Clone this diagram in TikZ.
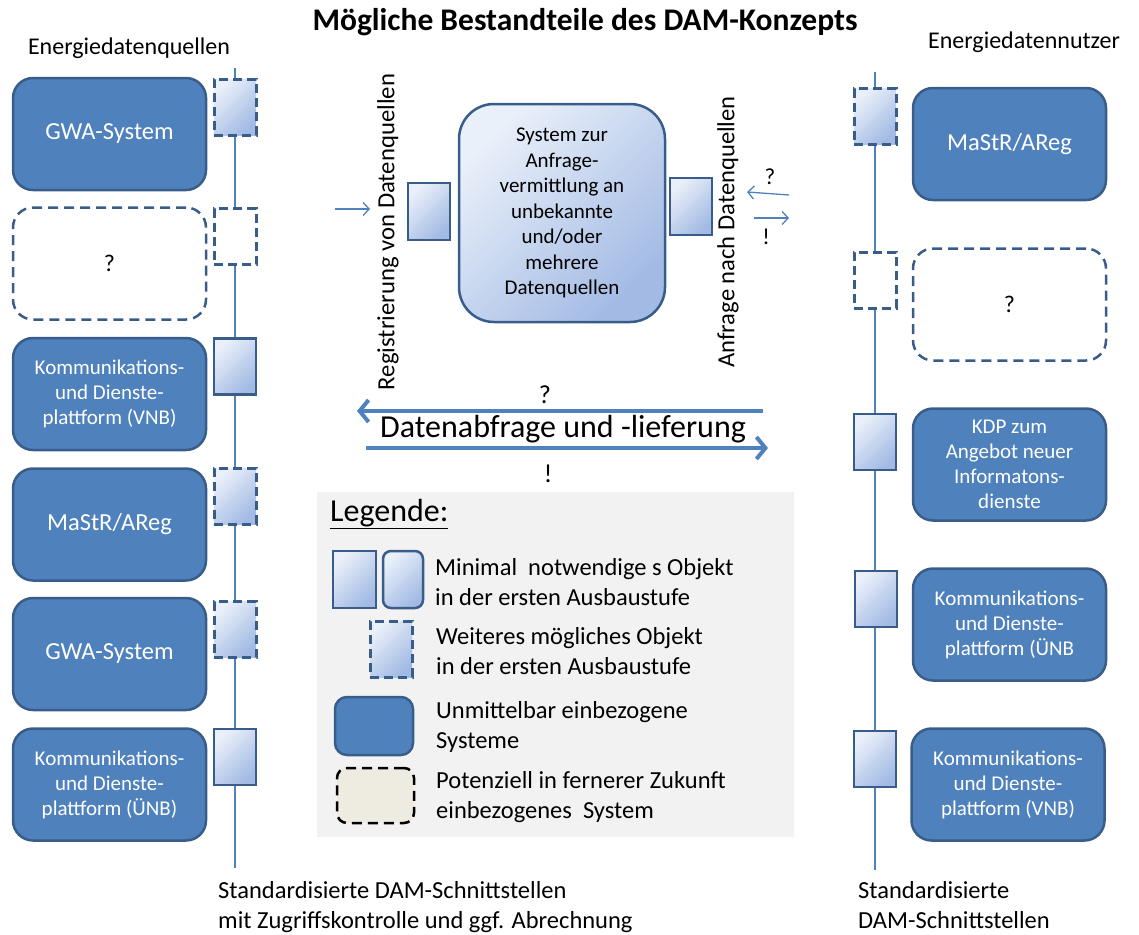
\documentclass[tikz,border=0pt]{standalone}
\usepackage{fontspec}
\setmainfont{Carlito}
\usetikzlibrary{arrows.meta}
\definecolor{midblue}{HTML}{4F81BD}
\definecolor{dkblue}{HTML}{385D8A}
\definecolor{lnblue}{HTML}{4F81BD}
\definecolor{sqlight}{HTML}{EAF0F9}
\definecolor{sqdark}{HTML}{A2BAE4}
\definecolor{legbg}{HTML}{F2F2F2}
\definecolor{futfill}{HTML}{EEECE1}
\newcommand{\fs}[2]{\fontsize{#1}{#2}\selectfont}
\tikzset{
  sysbox/.style={rectangle, rounded corners=20pt, draw=dkblue, line width=2.5pt, fill=midblue,
    text=white, align=center, minimum width=193pt, minimum height=112pt, inner sep=2pt},
  futbox/.style={sysbox, fill=white, text=black, dash pattern=on 10pt off 6pt},
  ifsq/.style={rectangle, draw=dkblue, line width=2.5pt, top color=sqlight, bottom color=sqdark,
    shading angle=45, minimum width=42pt, minimum height=56pt, inner sep=0pt},
  ifsqd/.style={ifsq, line width=3pt, dash pattern=on 9pt off 5pt},
  ifsqw/.style={rectangle, draw=dkblue, line width=3pt, fill=white, dash pattern=on 9pt off 5pt,
    minimum width=42pt, minimum height=56pt, inner sep=0pt},
  vline/.style={draw=lnblue, line width=1.5pt},
  thinarrow/.style={draw=lnblue, line width=1.3pt, -{Straight Barb[length=6pt,width=13pt]}},
  bigarrow/.style={draw=lnblue, line width=4pt, -{Straight Barb[length=9pt,width=22pt]}},
  lbl/.style={inner sep=0pt, font=\fs{24}{30}},
  legtxt/.style={anchor=west, align=left, inner sep=0pt, font=\fs{24.5}{30}}
}
\begin{document}
\begin{tikzpicture}[x=1pt,y=-1pt]
\useasboundingbox (0,0) rectangle (1139,934);
% title and headers
\node[font=\bfseries\fs{31.5}{34}] (title) at (585,22) {Mögliche Bestandteile des DAM-Konzepts};
\node[lbl] (hl) at (129,48) {Energiedatenquellen};
\node[lbl] (hr) at (1024,42) {Energiedatennutzer};

% left column
\node[sysbox, font=\fs{24.5}{28}] (lb1) at (109.5,134) {GWA-System};
\node[futbox, font=\fs{24}{28}] (lb2) at (109.5,263.5) {?};
\node[sysbox, font=\fs{21}{25}] (lb3) at (109.5,394) {Kommunikations-\\und Dienste-\\plattform (VNB)};
\node[sysbox, font=\fs{24.5}{28}] (lb4) at (109.5,524.5) {MaStR/AReg};
\node[sysbox, font=\fs{24.5}{28}] (lb5) at (109.5,654) {GWA-System};
\node[sysbox, font=\fs{21}{25}] (lb6) at (109.5,784.5) {Kommunikations-\\und Dienste-\\plattform (ÜNB)};

\coordinate (ltop) at (235,68);
\coordinate (lbot) at (235,868);
\node[ifsqd] (ls1) at (235,107) {};
\node[ifsqw] (ls2) at (235,236.5) {};
\node[ifsq]  (ls3) at (235,366.5) {};
\node[ifsqd] (ls4) at (235,496) {};
\node[ifsqd] (ls5) at (235,629.5) {};
\node[ifsq]  (ls6) at (235,757) {};
\draw[vline] (ltop) -- (ls1.north) (ls1.south) -- (ls2.north) (ls2.south) -- (ls3.north)
  (ls3.south) -- (ls4.north) (ls4.south) -- (ls5.north) (ls5.south) -- (ls6.north) (ls6.south) -- (lbot);

% right column
\node[sysbox, font=\fs{24.5}{28}] (rb1) at (1009.5,144) {MaStR/AReg};
\node[futbox, font=\fs{24}{28}] (rb2) at (1009.5,304.5) {?};
\node[sysbox, font=\fs{21}{25}] (rb3) at (1009.5,464.5) {KDP zum\\Angebot neuer\\Informatons-\\dienste};
\node[sysbox, font=\fs{21}{25}] (rb4) at (1009.5,624.5) {Kommunikations-\\und Dienste-\\plattform (ÜNB};
\node[sysbox, font=\fs{21}{25}] (rb5) at (1008,784.5) {Kommunikations-\\und Dienste-\\plattform (VNB)};

\coordinate (rtop) at (875,72);
\coordinate (rbot) at (875,870);
\node[ifsqd] (rs1) at (875,116.5) {};
\node[ifsqw] (rs2) at (875,280) {};
\node[ifsq]  (rs3) at (875,442) {};
\node[ifsq]  (rs4) at (876,599) {};
\node[ifsq]  (rs5) at (875,759) {};
\draw[vline] (rtop) -- (rs1.north) (rs1.south) -- (rs2.north) (rs2.south) -- (rs3.north)
  (rs3.south) -- (rs3.south |- rs4.north) (rs3.south |- rs4.south) -- (rs5.north) (rs5.south) -- (rbot);

% center system
\node[rectangle, rounded corners=35pt, draw=dkblue, line width=2.5pt, top color=sqlight, bottom color=sqdark,
  shading angle=45, minimum width=206pt, minimum height=218pt, align=center, font=\fs{21}{25.5}] (sys) at (562,213)
  {System zur\\Anfrage-\\vermittlung an\\unbekannte\\und/oder\\mehrere\\Datenquellen};
\node[ifsq, minimum height=57pt] (csl) at (429,211.5) {};
\node[ifsq, minimum height=57pt] (csr) at (691,206.5) {};
\node[rotate=90, font=\fs{24.7}{28}, inner sep=0pt] (reg) at (388,232) {Registrierung von Datenquellen};
\node[rotate=90, font=\fs{24.6}{28}, inner sep=0pt] (anf) at (728,232) {Anfrage nach Datenquellen};

\coordinate (a1s) at (335,209);
\coordinate (a1e) at (370,209);
\draw[thinarrow] (a1s) -- (a1e);
\coordinate (a2s) at (789,195);
\coordinate (a2e) at (747,192);
\draw[thinarrow] (a2s) -- (a2e);
\coordinate (a3s) at (754,218);
\coordinate (a3e) at (789,218);
\draw[thinarrow] (a3s) -- (a3e);
\node[inner sep=0pt, font=\fs{23}{28}] (q1) at (770,177) {?};
\node[inner sep=0pt, font=\fs{23}{28}] (x1) at (766,237) {!};

% data exchange arrows
\coordinate (b1s) at (763,411);
\coordinate (b1e) at (357,411);
\draw[bigarrow] (b1s) -- (b1e);
\coordinate (b2s) at (366,448);
\coordinate (b2e) at (768,448);
\draw[bigarrow] (b2s) -- (b2e);
\node[inner sep=0pt, font=\fs{32}{36}] (dat) at (563,429) {Datenabfrage und -lieferung};
\node[inner sep=0pt, font=\fs{26}{28}] (q2) at (545,395) {?};
\node[inner sep=0pt, font=\fs{26}{28}] (x2) at (548,474) {!};

% legend
\fill[legbg] (317,492) rectangle (794,837);
\node[anchor=west, inner sep=0pt, font=\fs{32}{34}] (leg) at (330,514) {\underline{Legende:}};
\node[ifsq, minimum width=43pt, minimum height=57pt] (lg1) at (354.5,579.5) {};
\node[ifsq, rounded corners=8pt, minimum width=40pt, minimum height=57pt] (lg2) at (403,579.5) {};
\node[legtxt] (lt1) at (435,582) {Minimal~ notwendige s Objekt\\in der ersten Ausbaustufe};
\node[ifsqd] (lg3) at (391,649) {};
\node[legtxt] (lt2) at (436,651.5) {Weiteres mögliches Objekt\\in der ersten Ausbaustufe};
\node[sysbox, rounded corners=12pt, minimum width=78pt, minimum height=58pt] (lg4) at (374,726) {};
\node[legtxt] (lt3) at (436,726.5) {Unmittelbar einbezogene\\Systeme};
\node[rectangle, rounded corners=10pt, draw=black, line width=2.5pt, fill=futfill, dash pattern=on 10pt off 6pt,
  minimum width=77pt, minimum height=55pt] (lg5) at (375.5,795.5) {};
\node[legtxt] (lt4) at (436,797) {Potenziell in fernerer Zukunft\\einbezogenes~ System};

% bottom labels
\node[legtxt] (bl) at (218,907) {Standardisierte DAM-Schnittstellen\\mit Zugriffskontrolle und ggf. Abrechnung};
\node[legtxt] (br) at (858,905) {Standardisierte\\DAM-Schnittstellen};
\end{tikzpicture}
\end{document}
